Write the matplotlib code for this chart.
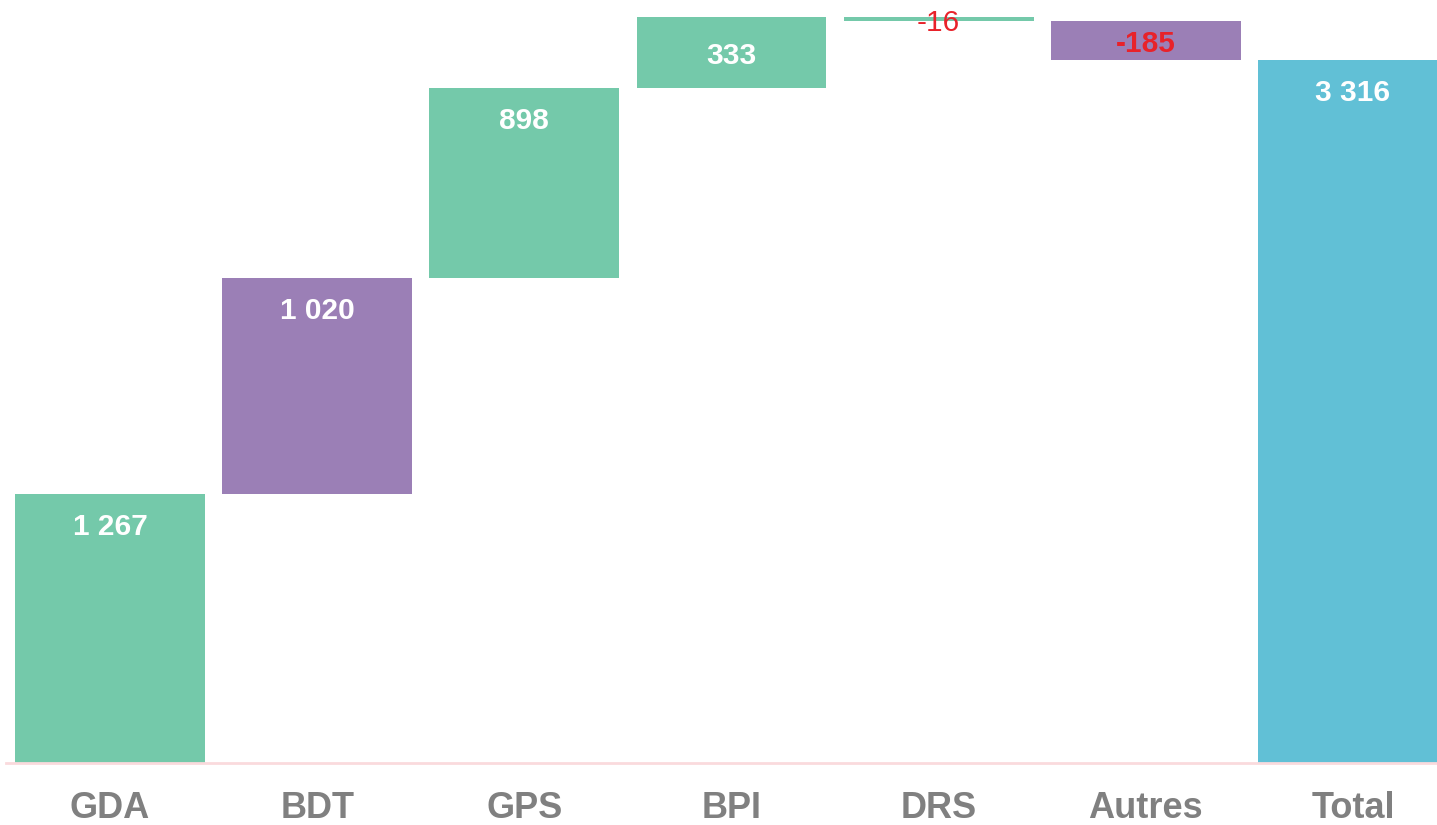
import matplotlib
matplotlib.use("Agg")
import matplotlib.pyplot as plt
import numpy as np

categories = ["GDA", "BDT", "GPS", "BPI", "DRS", "Autres", "Total"]
values = [1267, 1020, 898, 333, -16, -185, 3316]
is_total = [False, False, False, False, False, False, True]
bar_colors = ["#74C9AA", "#9B7FB6", "#74C9AA", "#74C9AA", "#74C9AA", "#9B7FB6", "#61C0D6"]
label_colors = ["white", "white", "white", "white", "#E8222A", "#E8222A", "white"]
label_weights = ["bold", "bold", "bold", "bold", "normal", "bold", "bold"]

plt.rcParams['font.family'] = ['Liberation Sans', 'DejaVu Sans']

fig = plt.figure(figsize=(14.37, 8.25), dpi=100)
ax = fig.add_axes([6.4 / 1437, 62 / 825, 1450.2 / 1437, 763 / 825])

bottoms = []
heights = []
running = 0
for v, t in zip(values, is_total):
    if t:
        bottoms.append(0)
        heights.append(v)
    else:
        bottoms.append(running)
        heights.append(v)
        running += v

x = np.arange(len(categories))
ax.bar(x, heights, bottom=bottoms, width=0.917, color=bar_colors, zorder=2)

ylim_top = 3600
ax.set_ylim(0, ylim_top)
ax.set_xlim(-0.5, len(categories) - 0.5)

units_per_px = ylim_top / 763.0
for i, (b, h) in enumerate(zip(bottoms, heights)):
    top = max(b, b + h)
    absh_px = abs(h) / units_per_px
    if absh_px < 80:
        off_px = absh_px / 2 + 3.5
    else:
        off_px = 33
    y = top - off_px * units_per_px
    txt = f"{values[i]:,}".replace(",", " ")
    ax.text(i, y, txt, ha="center", va="center", fontsize=21.5,
            color=label_colors[i], fontweight=label_weights[i], zorder=3)

ax.set_xticks(x)
ax.set_xticklabels(categories, fontsize=26, fontweight="bold", color="#808080")
ax.tick_params(axis="x", length=0, pad=20)
ax.set_yticks([])
for s in ["top", "right", "left"]:
    ax.spines[s].set_visible(False)
ax.spines["bottom"].set_color("#FADADD")
ax.spines["bottom"].set_linewidth(2)
ax.patch.set_alpha(0)

fig.savefig("out.png", dpi=100)
